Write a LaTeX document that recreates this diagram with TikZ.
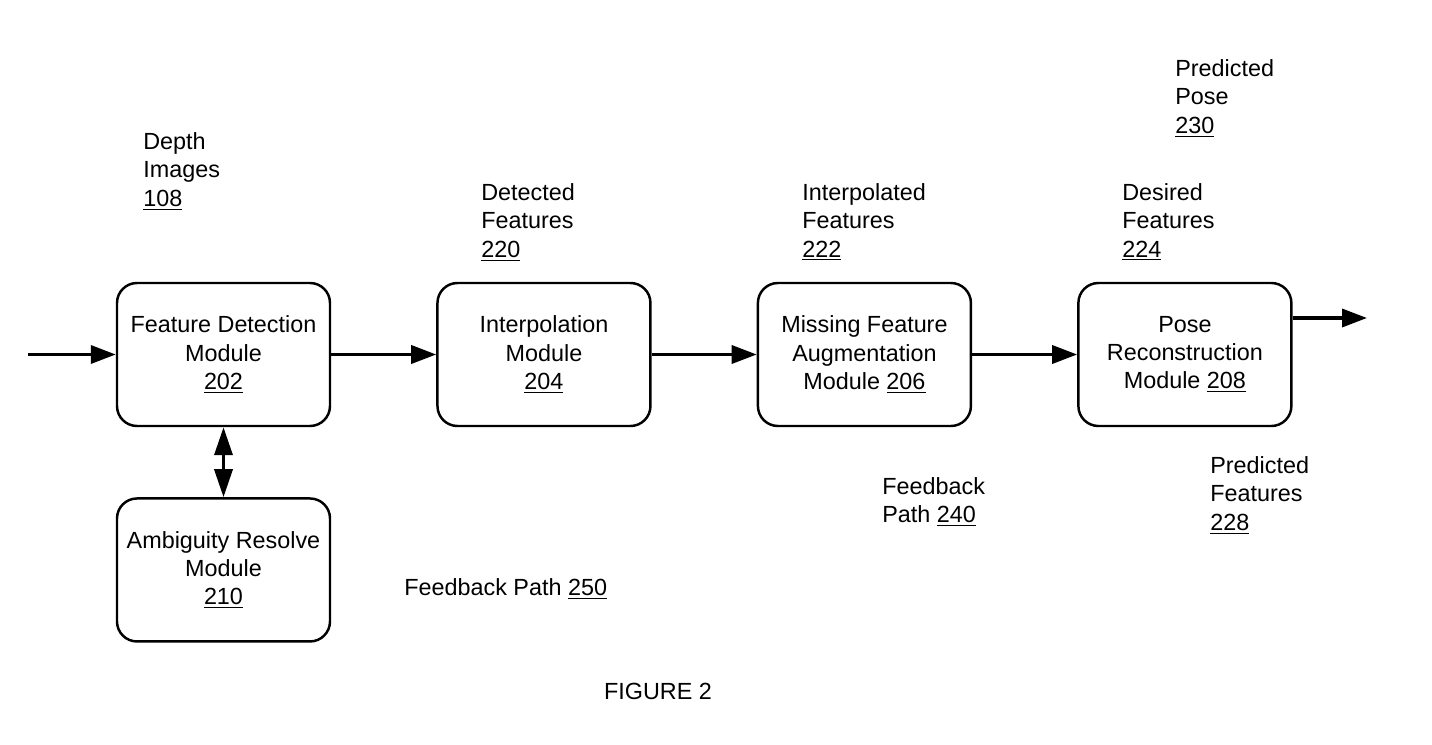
\documentclass[tikz,border=0pt]{standalone}
\usepackage{fontspec}
\setmainfont{Liberation Sans}
\usetikzlibrary{positioning, arrows.meta}

\begin{document}
\begin{tikzpicture}[
    modbox/.style={
        draw,
        line width=1.4pt,
        rounded corners=0.4cm,
        font=\fontsize{13.3}{16}\selectfont,
        align=center,
        minimum width=4.26cm,
        minimum height=2.86cm,
        inner sep=2pt
    },
    lbl/.style={
        font=\fontsize{13.3}{16.2}\selectfont,
        align=left,
        anchor=north west,
        inner sep=0pt
    },
    flow/.style={
        -{Triangle[length=0.5cm, width=0.36cm]},
        line width=2pt
    }
]

\useasboundingbox (0,0) rectangle (28.64,-14.9);

% === Modules ===
\node[modbox] (fdm) at (4.47,-7.09) {Feature Detection\\Module\\\underline{202}};
\node[modbox, right=2.1cm of fdm] (ipm) {Interpolation\\Module\\\underline{204}};
\node[modbox, right=2.1cm of ipm] (mfa) {Missing Feature\\Augmentation\\Module \underline{206}};
\node[modbox, right=2.1cm of mfa] (prm) {Pose\\Reconstruction\\Module \underline{208}};
\node[modbox, below=1.4cm of fdm] (arm) {Ambiguity Resolve\\Module\\\underline{210}};

% === Labels ===
\node[lbl] (depth) at (2.86,-2.64) {Depth\\Images\\\underline{108}};
\node[lbl] (det) at (9.62,-3.66) {Detected\\Features\\\underline{220}};
\node[lbl] (intp) at (16.04,-3.66) {Interpolated\\Features\\\underline{222}};
\node[lbl] (des) at (22.44,-3.66) {Desired\\Features\\\underline{224}};
\node[lbl] (ppose) at (23.5,-1.18) {Predicted\\Pose\\\underline{230}};
\node[lbl] (pfeat) at (24.2,-9.12) {Predicted\\Features\\\underline{228}};
\node[lbl] (fb240) at (17.64,-9.54) {Feedback\\Path \underline{240}};
\node[lbl, anchor=west] (fb250) at (8.08,-11.78) {Feedback Path \underline{250}};
\node[font=\fontsize{13.3}{16}\selectfont] (fig) at (13.16,-13.82) {FIGURE 2};

% === Arrows ===
\coordinate (in) at (0.56,-7.09);
\coordinate (out) at (27.34,-6.36);
\draw[flow] (in) -- (fdm.west);
\draw[flow] (fdm.east) -- (ipm.west);
\draw[flow] (ipm.east) -- (mfa.west);
\draw[flow] (mfa.east) -- (prm.west);
\draw[flow] (prm.east |- out) -- (out);
\draw[flow, {Triangle[length=0.56cm, width=0.36cm]}-{Triangle[length=0.56cm, width=0.36cm]}] (fdm.south) -- (arm.north);

\end{tikzpicture}
\end{document}
